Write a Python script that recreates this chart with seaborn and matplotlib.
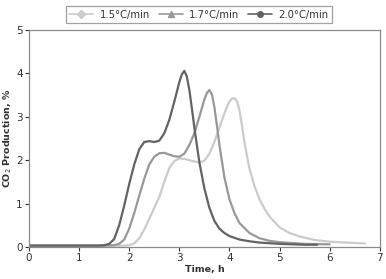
import matplotlib
matplotlib.use('Agg')
import matplotlib.pyplot as plt
from matplotlib.lines import Line2D
import seaborn as sns
import pandas as pd

# 1.5°C/min
t_15 = [0, 0.5, 1.0, 1.5, 1.9, 2.0, 2.1, 2.2, 2.3, 2.4, 2.5, 2.6, 2.7, 2.8, 2.9, 3.0, 3.1, 3.2,
        3.3, 3.4, 3.5, 3.6, 3.7, 3.8, 3.9, 3.95, 4.0, 4.05, 4.1, 4.15, 4.2, 4.25, 4.3, 4.4,
        4.5, 4.6, 4.7, 4.8, 5.0, 5.2, 5.4, 5.7, 6.0, 6.5, 6.7]
v_15 = [0.03, 0.03, 0.03, 0.03, 0.03, 0.04, 0.08, 0.2, 0.4, 0.65, 0.9, 1.15, 1.5, 1.82, 1.98,
        2.04, 2.03, 2.0, 1.97, 1.95, 1.99, 2.15, 2.42, 2.75, 3.08, 3.23, 3.35, 3.42, 3.43,
        3.36, 3.15, 2.8, 2.4, 1.8, 1.4, 1.1, 0.88, 0.7, 0.45, 0.32, 0.24, 0.16, 0.12, 0.09,
        0.08]

# 1.7°C/min
t_17 = [0, 0.5, 1.0, 1.5, 1.7, 1.8, 1.9, 2.0, 2.1, 2.2, 2.3, 2.4, 2.5, 2.6, 2.7, 2.8, 2.9,
        3.0, 3.1, 3.2, 3.3, 3.4, 3.45, 3.5, 3.55, 3.6, 3.65, 3.7, 3.75, 3.8, 3.9, 4.0, 4.1,
        4.2, 4.4, 4.6, 4.8, 5.0, 5.5, 6.0]
v_17 = [0.03, 0.03, 0.03, 0.03, 0.04, 0.07, 0.17, 0.42, 0.78, 1.18, 1.57, 1.9, 2.08, 2.16,
        2.17, 2.13, 2.09, 2.08, 2.15, 2.35, 2.62, 3.0, 3.2, 3.4, 3.55, 3.62, 3.52, 3.22,
        2.8, 2.35, 1.6, 1.1, 0.78, 0.55, 0.32, 0.2, 0.14, 0.11, 0.07, 0.06]

# 2.0°C/min
t_20 = [0, 0.5, 1.0, 1.4, 1.5, 1.6, 1.7, 1.8, 1.9, 2.0, 2.1, 2.2, 2.3, 2.4, 2.5, 2.6, 2.7,
        2.8, 2.9, 3.0, 3.05, 3.1, 3.15, 3.2, 3.25, 3.3, 3.4, 3.5, 3.6, 3.7, 3.8, 3.9, 4.0,
        4.2, 4.4, 4.6, 5.0, 5.5, 5.75]
v_20 = [0.03, 0.03, 0.03, 0.03, 0.04, 0.07, 0.18, 0.5, 0.95, 1.45, 1.9, 2.25, 2.42, 2.44,
        2.42, 2.45, 2.62, 2.93, 3.35, 3.8, 3.98, 4.06, 3.93, 3.62, 3.2, 2.75, 1.95, 1.35,
        0.9, 0.6, 0.42, 0.32, 0.25, 0.17, 0.13, 0.1, 0.07, 0.05, 0.05]

labels = ['1.5°C/min', '1.7°C/min', '2.0°C/min']
colors = ['#cbcbcb', '#989898', '#636363']
markers = ['D', '^', 'o']

df = pd.concat([
    pd.DataFrame({'time': t_15, 'co2': v_15, 'rate': labels[0]}),
    pd.DataFrame({'time': t_17, 'co2': v_17, 'rate': labels[1]}),
    pd.DataFrame({'time': t_20, 'co2': v_20, 'rate': labels[2]}),
])

sns.set_style('white')
plt.rcParams['font.family'] = ['DejaVu Sans']

fig = plt.figure(figsize=(3.86, 2.79), dpi=100)
ax = fig.add_axes([0.075, 0.115, 0.909, 0.777])

sns.lineplot(data=df, x='time', y='co2', hue='rate',
             palette=dict(zip(labels, colors)), linewidth=1.6,
             ax=ax, legend=False, estimator=None, sort=False)

ax.set_xlim(0, 7)
ax.set_ylim(0, 5)
ax.set_xticks(range(8))
ax.set_yticks(range(6))
ax.tick_params(labelsize=7.5, colors='#333333', length=3, width=0.8, direction='out',
               pad=1.5, left=True, bottom=True)
for s in ax.spines.values():
    s.set_color('#8a8a8a')
    s.set_linewidth(0.9)

ax.set_xlabel('Time, h', fontsize=6.8, fontweight='bold', color='#333333', labelpad=1)
ax.set_ylabel('CO$_2$ Production, %', fontsize=6.8, fontweight='bold', color='#333333',
              labelpad=1.5)

handles = [Line2D([], [], color=c, marker=m, markersize=4, linewidth=1.2)
           for c, m in zip(colors, markers)]
leg = fig.legend(handles, labels, loc='upper center', bbox_to_anchor=(0.515, 0.995),
                 ncol=3, fontsize=7.2, frameon=True, fancybox=False, handlelength=2.4,
                 columnspacing=0.9, handletextpad=0.6, borderpad=0.35)
leg.get_frame().set_edgecolor('#8a8a8a')
leg.get_frame().set_linewidth(0.9)
for t in leg.get_texts():
    t.set_color('#333333')

fig.savefig('out.png', dpi=100)
